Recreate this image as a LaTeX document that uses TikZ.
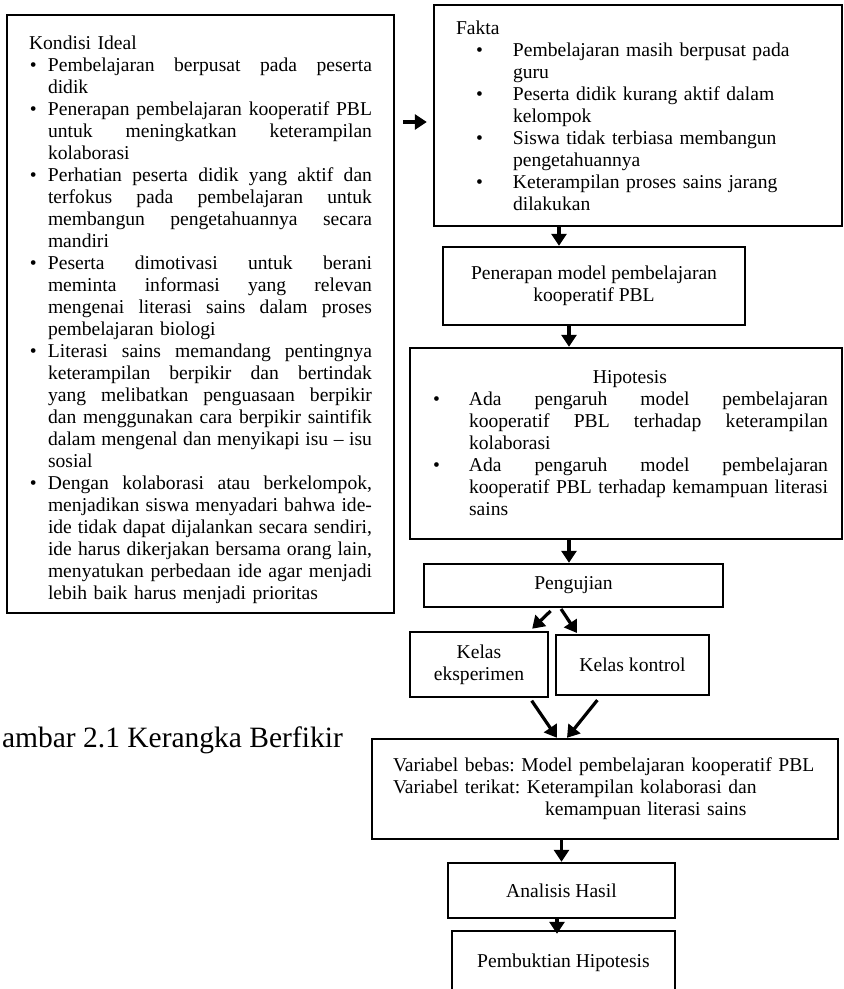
\documentclass[tikz,border=0pt]{standalone}
\usepackage{fontspec}
\setmainfont{Liberation Serif}
\usetikzlibrary{arrows.meta}
\newcommand{\jus}[2]{{\spaceskip=.25em plus 1fil minus .08em\relax\makebox[#1][s]{#2}}}
\newcommand{\bul}[2]{\hspace*{#1}\makebox[#2][l]{\textbullet}}
\tikzset{
  box/.style={draw,line width=2.4pt,inner sep=0pt,font=\fontsize{19.6}{22}\selectfont\frenchspacing},
  arr/.style={-{Triangle[length=12pt,width=15pt]},line width=3.2pt},
}
\begin{document}
\begin{tikzpicture}[x=1pt,y=-1pt]
\useasboundingbox (0,0) rectangle (844,989);
\node[box,minimum width=387pt,minimum height=598pt,text width=387pt,align=left] (ideal) at (200.5,314) {
\hspace*{22pt}\rule{0pt}{26pt}Kondisi Ideal\\
\bul{23pt}{18pt}\jus{324pt}{Pembelajaran berpusat pada peserta}\\
\hspace*{41pt}didik\\
\bul{23pt}{18pt}\jus{324pt}{Penerapan pembelajaran kooperatif PBL}\\
\hspace*{41pt}\jus{324pt}{untuk meningkatkan keterampilan}\\
\hspace*{41pt}kolaborasi\\
\bul{23pt}{18pt}\jus{324pt}{Perhatian peserta didik yang aktif dan}\\
\hspace*{41pt}\jus{324pt}{terfokus pada pembelajaran untuk}\\
\hspace*{41pt}\jus{324pt}{membangun pengetahuannya secara}\\
\hspace*{41pt}mandiri\\
\bul{23pt}{18pt}\jus{324pt}{Peserta dimotivasi untuk berani}\\
\hspace*{41pt}\jus{324pt}{meminta informasi yang relevan}\\
\hspace*{41pt}\jus{324pt}{mengenai literasi sains dalam proses}\\
\hspace*{41pt}pembelajaran biologi\\
\bul{23pt}{18pt}\jus{324pt}{Literasi sains memandang pentingnya}\\
\hspace*{41pt}\jus{324pt}{keterampilan berpikir dan bertindak}\\
\hspace*{41pt}\jus{324pt}{yang melibatkan penguasaan berpikir}\\
\hspace*{41pt}\jus{324pt}{dan menggunakan cara berpikir saintifik}\\
\hspace*{41pt}\jus{324pt}{dalam mengenal dan menyikapi isu – isu}\\
\hspace*{41pt}sosial\\
\bul{23pt}{18pt}\jus{324pt}{Dengan kolaborasi atau berkelompok,}\\
\hspace*{41pt}\jus{324pt}{menjadikan siswa menyadari bahwa ide-}\\
\hspace*{41pt}\jus{324pt}{ide tidak dapat dijalankan secara sendiri,}\\
\hspace*{41pt}\jus{324pt}{ide harus dikerjakan bersama orang lain,}\\
\hspace*{41pt}\jus{324pt}{menyatukan perbedaan ide agar menjadi}\\
\hspace*{41pt}lebih baik harus menjadi prioritas};
\node[box,minimum width=408pt,minimum height=221pt,text width=408pt,align=left] (fakta) at (638,115.5) {
\hspace*{22pt}Fakta\\
\bul{42pt}{37pt}Pembelajaran masih berpusat pada\\
\hspace*{79pt}guru\\
\bul{42pt}{37pt}Peserta didik kurang aktif dalam\\
\hspace*{79pt}kelompok\\
\bul{42pt}{37pt}Siswa tidak terbiasa membangun\\
\hspace*{79pt}pengetahuannya\\
\bul{42pt}{37pt}Keterampilan proses sains jarang\\
\hspace*{79pt}dilakukan};
\node[box,minimum width=302pt,minimum height=78pt,align=center] (terap) at (594,286) {Penerapan model pembelajaran\\kooperatif PBL};
\node[box,minimum width=432pt,minimum height=191pt,text width=432pt,align=left] (hipo) at (626,443.5) {
\makebox[432pt]{\hspace{8pt}Hipotesis}\\
\bul{23pt}{36pt}\jus{359pt}{Ada pengaruh model pembelajaran}\\
\hspace*{59pt}\jus{359pt}{kooperatif PBL terhadap keterampilan}\\
\hspace*{59pt}kolaborasi\\
\bul{23pt}{36pt}\jus{359pt}{Ada pengaruh model pembelajaran}\\
\hspace*{59pt}\jus{359pt}{kooperatif PBL terhadap kemampuan literasi}\\
\hspace*{59pt}sains};
\node[box,minimum width=299pt,minimum height=43pt] (uji) at (573.5,585.5) {Pengujian};
\node[box,minimum width=138pt,minimum height=65pt,align=center] (eks) at (479,664.5) {Kelas\\eksperimen};
\node[box,minimum width=153pt,minimum height=60pt] (kon) at (632.5,665) {Kelas kontrol};
\node[box,minimum width=466pt,minimum height=100pt,text width=466pt,align=left] (var) at (605,789) {
\hspace*{21pt}Variabel bebas: Model pembelajaran kooperatif PBL\\
\hspace*{21pt}Variabel terikat: Keterampilan kolaborasi dan\\
\hspace*{173pt}kemampuan literasi sains};
\node[box,minimum width=227pt,minimum height=55pt] (anal) at (561.5,890.5) {Analisis Hasil};
\node[box,minimum width=223pt,minimum height=64pt] (bukti) at (563.5,963) {Pembuktian Hipotesis};
\node[anchor=base east,inner sep=0pt,font=\fontsize{29.5}{32}\selectfont] (cap) at (343,747) {ambar 2.1 Kerangka Berfikir};
\coordinate (fin) at ([yshift=-6.5pt]fakta.west);
\coordinate (tin) at ([xshift=-35pt]terap.north);
\coordinate (hin) at ([xshift=-57pt]hipo.north);
\coordinate (uin) at ([xshift=-4.5pt]uji.north);
\coordinate (bin) at ([xshift=-6.5pt]bukti.north);
\path[arr] (ideal.east |- fin) edge[shorten <=8pt,shorten >=6pt] (fin)
  (fakta.south -| tin) edge (tin)
  (terap.south -| hin) edge (hin)
  (hipo.south -| uin) edge (uin)
  ([xshift=-20pt]uji.south) edge[shorten <=4pt,shorten >=3pt] ([xshift=51pt]eks.north)
  ([xshift=-13pt]uji.south) edge[shorten <=1pt,shorten >=1pt] ([xshift=-55pt]kon.north)
  ([xshift=51pt]eks.south) edge[shorten <=3pt] ([xshift=-48pt]var.north)
  ([xshift=-32pt]kon.south) edge[shorten <=5pt] ([xshift=-38pt]var.north)
  (var.south -| anal.north) edge (anal.north)
  (anal.south -| bin) edge[shorten >=-4pt] (bin);
\end{tikzpicture}
\end{document}
